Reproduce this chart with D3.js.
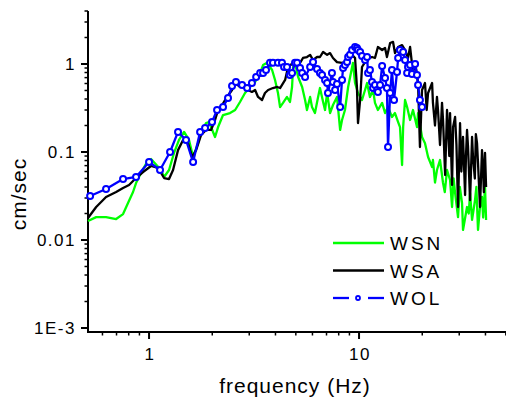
<!DOCTYPE html>
<html>
<head>
<meta charset="utf-8">
<script src="https://cdn.jsdelivr.net/npm/d3@7"></script>
<style>
  body { margin: 0; background: #fff; }
  text { font-family: Arial, "Liberation Sans", sans-serif; fill: #000; }
</style>
</head>
<body>
<svg width="506" height="408"></svg>
<script>
// spectra: [frequency Hz, amplitude cm/sec]
var wsn = [[0.512,0.0164],[0.560,0.0182],[0.624,0.0182],[0.697,0.0173],[0.752,0.0197],[0.794,0.0263],[0.839,0.0351],[0.867,0.0444],[0.916,0.0577],[0.989,0.0811],[1.022,0.0832],[1.140,0.0624],[1.179,0.0520],[1.245,0.0624],[1.315,0.0975],[1.389,0.137],[1.468,0.169],[1.550,0.137],[1.621,0.0878],[1.711,0.126],[1.770,0.169],[1.868,0.213],[1.930,0.219],[2.062,0.148],[2.132,0.192],[2.251,0.263],[2.430,0.277],[2.570,0.300],[2.711,0.370],[2.864,0.468],[3.027,0.548],[3.199,0.624],[3.381,0.791],[3.491,0.973],[3.648,1.03],[3.855,0.855],[3.981,0.658],[4.111,0.468],[4.207,0.324],[4.345,0.361],[4.539,0.422],[4.688,0.370],[4.797,0.548],[4.853,0.924],[4.955,1.03],[5.129,0.711],[5.358,0.548],[5.534,0.390],[5.649,0.300],[5.848,0.422],[5.970,0.324],[6.166,0.277],[6.383,0.422],[6.516,0.533],[6.745,0.370],[6.887,0.300],[7.047,0.468],[7.278,0.277],[7.516,0.342],[7.852,0.422],[8.128,0.178],[8.299,0.231],[8.570,0.300],[8.872,0.548],[9.268,0.924],[9.354,1.03],[9.572,0.608],[9.886,0.468],[10.33,0.390],[10.68,0.506],[10.92,0.608],[11.27,0.422],[11.66,0.506],[11.91,0.361],[12.30,0.300],[12.88,0.361],[13.30,0.277],[13.74,0.324],[14.35,0.250],[14.83,0.277],[15.35,0.219],[15.67,0.192],[16.03,0.0711],[16.22,0.192],[16.56,0.390],[16.94,0.324],[17.50,0.231],[18.07,0.300],[18.88,0.192],[19.10,0.277],[19.95,0.148],[20.61,0.126],[21.32,0.0878],[22.28,0.0675],[22.49,0.0811],[23.0,0.045],[23.50,0.0624],[24.30,0.0811],[25.12,0.0444],[25.6,0.035],[26.24,0.0624],[27.13,0.0481],[27.73,0.0237],[28.2,0.05],[28.67,0.0342],[29.61,0.0182],[30.2,0.04],[30.94,0.0263],[31.27,0.0130],[32.68,0.0237],[33.3,0.02],[33.78,0.0342],[34.53,0.0169],[35.67,0.0284],[36.2,0.04],[36.86,0.0130],[37.67,0.0237],[38.51,0.0308],[39.0,0.018],[39.81,0.0400],[40.27,0.0169]];

var wsa = [[0.512,0.0178],[0.560,0.0237],[0.624,0.0308],[0.697,0.0351],[0.752,0.0390],[0.803,0.0422],[0.867,0.0506],[0.936,0.0592],[1.022,0.0693],[1.104,0.0658],[1.179,0.0506],[1.245,0.0493],[1.301,0.0624],[1.374,0.105],[1.452,0.137],[1.534,0.126],[1.603,0.0878],[1.675,0.105],[1.770,0.156],[1.868,0.178],[1.973,0.178],[2.062,0.231],[2.132,0.300],[2.228,0.342],[2.350,0.422],[2.484,0.506],[2.570,0.608],[2.711,0.548],[2.805,0.577],[2.958,0.506],[3.090,0.481],[3.199,0.506],[3.304,0.422],[3.451,0.390],[3.565,0.468],[3.690,0.506],[3.890,0.533],[4.074,0.548],[4.207,0.533],[4.446,0.658],[4.592,0.924],[4.853,1.03],[5.236,1.03],[5.408,1.17],[5.649,1.20],[5.848,1.27],[6.039,1.11],[6.310,1.20],[6.516,1.20],[6.745,1.37],[7.047,1.27],[7.278,1.33],[7.516,1.17],[7.852,1.05],[8.299,1.03],[8.570,1.05],[8.872,1.20],[9.268,1.27],[9.572,1.17],[9.772,0.548],[9.886,0.213],[10.12,0.390],[10.33,0.924],[10.68,1.05],[11.04,1.17],[11.53,1.20],[11.91,1.17],[12.30,1.56],[12.88,1.44],[13.30,1.52],[13.58,1.20],[14.06,1.73],[14.52,1.78],[14.83,1.33],[15.35,1.56],[16.03,1.64],[16.56,1.44],[17.11,1.17],[17.50,1.56],[18.07,0.791],[18.49,1.05],[19.10,0.608],[19.50,0.114],[19.95,0.506],[20.61,0.608],[21.0,0.30],[21.32,0.468],[22.28,0.608],[22.49,0.361],[23.0,0.20],[23.50,0.422],[23.77,0.300],[24.3,0.12],[24.84,0.361],[25.12,0.231],[25.70,0.0547],[26.24,0.300],[26.52,0.192],[26.9,0.09],[27.13,0.277],[27.73,0.0422],[28.05,0.192],[28.67,0.250],[29.1,0.12],[29.61,0.0237],[30.27,0.213],[30.7,0.06],[31.27,0.148],[31.99,0.0324],[32.3,0.09],[32.68,0.178],[33.04,0.114],[33.78,0.0284],[34.53,0.148],[34.89,0.0878],[35.6,0.05],[36.0,0.16],[36.46,0.126],[36.86,0.0750],[37.67,0.0237],[38.51,0.105],[38.93,0.0675],[39.3,0.035],[39.81,0.0975],[40.27,0.0400]];

var wol = [[0.524,0.0316],[0.624,0.0380],[0.752,0.0493],[0.867,0.0520],[1.0,0.0769],[1.128,0.0624],[1.259,0.100],[1.374,0.169],[1.500,0.137],[1.621,0.0769],[1.750,0.169],[1.848,0.187],[1.995,0.219],[2.108,0.300],[2.251,0.324],[2.377,0.410],[2.484,0.562],[2.594,0.624],[2.773,0.577],[2.931,0.533],[3.090,0.608],[3.236,0.711],[3.381,0.791],[3.491,0.791],[3.606,0.855],[3.767,1.03],[3.890,1.03],[4.111,1.03],[4.295,1.03],[4.395,0.924],[4.539,0.924],[4.688,0.750],[4.797,0.791],[4.955,1.03],[5.070,1.03],[5.236,0.900],[5.358,0.791],[5.534,0.711],[5.848,0.924],[6.039,1.05],[6.310,0.877],[6.516,0.791],[6.668,0.750],[6.887,0.658],[7.047,0.608],[7.112,0.468],[7.430,0.791],[7.516,0.624],[7.691,0.506],[7.852,0.593],[8.128,0.324],[8.299,0.658],[8.395,0.900],[8.570,0.973],[8.770,1.05],[8.872,1.20],[9.057,1.27],[9.268,1.44],[9.572,1.56],[9.772,1.52],[9.886,1.44],[10.12,1.37],[10.33,1.23],[10.68,1.11],[10.92,1.20],[11.04,0.791],[11.27,0.855],[11.53,0.624],[11.66,0.533],[11.91,0.577],[12.19,0.506],[12.30,0.481],[12.59,0.577],[12.88,0.948],[13.30,0.693],[13.58,0.533],[13.74,0.114],[14.06,0.468],[14.35,0.855],[14.68,0.390],[15.17,0.811],[15.35,1.17],[15.67,1.44],[16.22,1.37],[16.56,1.11],[16.94,0.791],[17.11,0.924],[17.50,0.973],[17.87,0.770],[18.49,1.00],[18.88,0.750],[19.10,0.577],[19.50,0.390],[19.95,0.324]];

var names = ["WSN", "WSA", "WOL"];
var colors = ["#00ff00", "#000000", "#0000ff"];
var yTicks = [0.001, 0.01, 0.1, 1];
var yTickLabels = ["1E-3", "0.01", "0.1", "1"];
var xTicks = [1, 10];
var xTickLabels = ["1", "10"];

var svg = d3.select("svg");

var x = d3.scaleLog().domain([0.512, 50.1]).range([88, 506]);
var y = d3.scaleLog().domain([0.001, 4]).range([328, 11]);
var axisY = 332;

var line = d3.line()
    .x(function(d) { return x(d[0]); })
    .y(function(d) { return y(d[1]); });

// minor ticks
var xMinor = [0.6, 0.7, 0.8, 0.9, 2, 3, 4, 5, 6, 7, 8, 9, 20, 30, 40, 50];
var yMinor = [];
[0.001, 0.01, 0.1, 1].forEach(function(p) {
  for (var k = 2; k <= 9; k++) if (p * k <= 4.001) yMinor.push(p * k);
});

var ax = svg.append("g").attr("stroke", "#000");

ax.append("line").attr("x1", 88).attr("x2", 88).attr("y1", y(4)).attr("y2", axisY + 1).attr("stroke-width", 2);
ax.append("line").attr("x1", 87).attr("x2", 506).attr("y1", axisY).attr("y2", axisY).attr("stroke-width", 2);

ax.selectAll(".ymaj").data(yTicks).enter().append("line")
    .attr("x1", 81).attr("x2", 88)
    .attr("y1", function(d) { return y(d); }).attr("y2", function(d) { return y(d); })
    .attr("stroke-width", 2);
ax.selectAll(".ymin").data(yMinor).enter().append("line")
    .attr("x1", 84.5).attr("x2", 88)
    .attr("y1", function(d) { return y(d); }).attr("y2", function(d) { return y(d); })
    .attr("stroke-width", 1.5);

ax.selectAll(".xmaj").data(xTicks).enter().append("line")
    .attr("x1", function(d) { return x(d); }).attr("x2", function(d) { return x(d); })
    .attr("y1", axisY).attr("y2", axisY + 7)
    .attr("stroke-width", 2);
ax.selectAll(".xmin").data(xMinor).enter().append("line")
    .attr("x1", function(d) { return x(d); }).attr("x2", function(d) { return x(d); })
    .attr("y1", axisY).attr("y2", axisY + 3.5)
    .attr("stroke-width", 1.5);

svg.selectAll(".ylab").data(yTicks).enter().append("text")
    .attr("x", 76).attr("y", function(d) { return y(d) + 6; })
    .attr("text-anchor", "end")
    .style("font-size", "17px").style("letter-spacing", "1.5px")
    .text(function(d, i) { return yTickLabels[i]; });

svg.selectAll(".xlab").data(xTicks).enter().append("text")
    .attr("x", function(d) { return x(d) + 1; }).attr("y", 360)
    .attr("text-anchor", "middle")
    .style("font-size", "17px").style("letter-spacing", "1.5px")
    .text(function(d, i) { return xTickLabels[i]; });

svg.append("text")
    .attr("x", 295).attr("y", 393)
    .attr("text-anchor", "middle")
    .style("font-size", "21px").style("letter-spacing", "1px")
    .text("frequency (Hz)");

svg.append("text")
    .attr("transform", "translate(26,194) rotate(-90)")
    .attr("text-anchor", "middle")
    .style("font-size", "21px").style("letter-spacing", "1px")
    .text("cm/sec");

// series
var series = [wsn, wsa, wol];
series.forEach(function(s, i) {
  svg.append("path")
      .datum(s)
      .attr("d", line)
      .attr("fill", "none")
      .attr("stroke", colors[i])
      .attr("stroke-width", 2.3)
      .attr("stroke-linejoin", "round");
});

svg.selectAll(".dot").data(wol).enter().append("circle")
    .attr("cx", function(d) { return x(d[0]); })
    .attr("cy", function(d) { return y(d[1]); })
    .attr("r", 3)
    .attr("fill", "#fff")
    .attr("stroke", colors[2])
    .attr("stroke-width", 2);

// legend
var lg = svg.append("g");
names.forEach(function(n, i) {
  var ly = 243 + i * 27.5;
  if (i < 2) {
    lg.append("line").attr("x1", 333).attr("x2", 384).attr("y1", ly).attr("y2", ly)
        .attr("stroke", colors[i]).attr("stroke-width", 2.3);
  } else {
    lg.append("line").attr("x1", 333).attr("x2", 349).attr("y1", ly).attr("y2", ly)
        .attr("stroke", colors[i]).attr("stroke-width", 2.3);
    lg.append("line").attr("x1", 368).attr("x2", 384).attr("y1", ly).attr("y2", ly)
        .attr("stroke", colors[i]).attr("stroke-width", 2.3);
    lg.append("circle").attr("cx", 358).attr("cy", ly).attr("r", 2)
        .attr("fill", "#fff").attr("stroke", colors[i]).attr("stroke-width", 1.8);
  }
  lg.append("text")
      .attr("x", 390).attr("y", ly + 7)
      .style("font-size", "19px").style("letter-spacing", "3px")
      .text(n);
});
</script>
</body>
</html>
